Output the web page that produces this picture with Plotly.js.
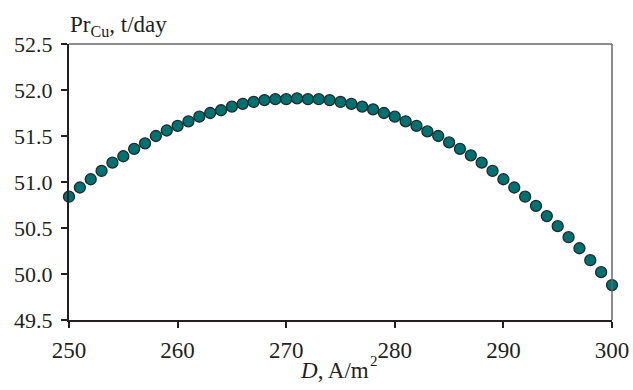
<!DOCTYPE html>
<html>
<head>
<meta charset="utf-8">
<script src="https://cdn.plot.ly/plotly-3.0.1.min.js"></script>
<style>html,body{margin:0;padding:0;background:#fff;}#chart{width:633px;height:390px;}</style>
</head>
<body>
<div id="chart"></div>
<script>
// Current density D, A/m^2
const currentDensity = [250,251,252,253,254,255,256,257,258,259,260,261,262,263,264,265,266,267,268,269,270,271,272,273,274,275,276,277,278,279,280,281,282,283,284,285,286,287,288,289,290,291,292,293,294,295,296,297,298,299,300];
// Copper productivity Pr_Cu, t/day
const productivity = [50.84,50.94,51.03,51.12,51.21,51.28,51.36,51.42,51.50,51.56,51.61,51.66,51.71,51.75,51.78,51.82,51.85,51.87,51.89,51.90,51.90,51.91,51.90,51.90,51.89,51.87,51.85,51.82,51.79,51.75,51.71,51.66,51.61,51.55,51.50,51.43,51.36,51.29,51.21,51.12,51.03,50.94,50.84,50.74,50.63,50.52,50.40,50.28,50.15,50.02,49.88];
const xTicks = [250,260,270,280,290,300];
const yTicks = [49.5,50.0,50.5,51.0,51.5,52.0,52.5];
const yTickText = ["49.5","50.0","50.5","51.0","51.5","52.0","52.5"];

const font = "Liberation Serif, Times New Roman, serif";
const ink = "#231f20";

const trace = {
  x: currentDensity,
  y: productivity,
  type: "scatter",
  mode: "markers",
  cliponaxis: false,
  marker: {size: 11, color: "#007070", line: {color: "#1e2a2a", width: 1.3}},
  hoverinfo: "skip"
};

const layout = {
  width: 633, height: 390,
  margin: {l: 69, r: 21, t: 44, b: 70},
  paper_bgcolor: "#fff", plot_bgcolor: "#fff",
  showlegend: false,
  font: {family: font, size: 22, color: ink},
  xaxis: {
    range: [250, 300], tickvals: xTicks, ticktext: xTicks.map(String),
    showgrid: false, zeroline: false,
    showline: true, linecolor: ink, linewidth: 2,
    ticks: "outside", ticklen: 6, tickwidth: 2, tickcolor: ink,
    ticklabelstandoff: 2,
    tickfont: {family: font, size: 23, color: ink}
  },
  yaxis: {
    range: [49.5, 52.5], tickvals: yTicks, ticktext: yTickText,
    showgrid: false, zeroline: false,
    showline: true, linecolor: ink, linewidth: 2,
    ticks: "outside", ticklen: 6, tickwidth: 2, tickcolor: ink,
    ticklabelstandoff: 4,
    tickfont: {family: font, size: 22, color: ink}
  },
  shapes: [
    {type: "line", xref: "paper", yref: "paper", x0: 0, x1: 1, y0: 1, y1: 1, line: {color: "#666", width: 1.5}},
    {type: "line", xref: "paper", yref: "paper", x0: 1, x1: 1, y0: 0, y1: 1, line: {color: "#666", width: 1.5}}
  ],
  annotations: [
    {text: "Pr<sub>Cu</sub>, t/day", xref: "paper", yref: "paper", x: 0, y: 1, xanchor: "left", yanchor: "bottom",
     yshift: 2, xshift: -1, showarrow: false, font: {family: font, size: 23, color: ink}},
    {text: "<i>D</i>, A/m", xref: "paper", yref: "paper", x: 0.4217, y: 0, xanchor: "left", yanchor: "middle",
     yshift: -50, showarrow: false, font: {family: font, size: 23, color: ink}},
    {text: "2", xref: "paper", yref: "paper", x: 0.5507, y: 0, xanchor: "left", yanchor: "middle",
     yshift: -41, showarrow: false, font: {family: font, size: 15, color: ink}}
  ]
};

Plotly.newPlot("chart", [trace], layout, {staticPlot: true, displayModeBar: false});
</script>
</body>
</html>
